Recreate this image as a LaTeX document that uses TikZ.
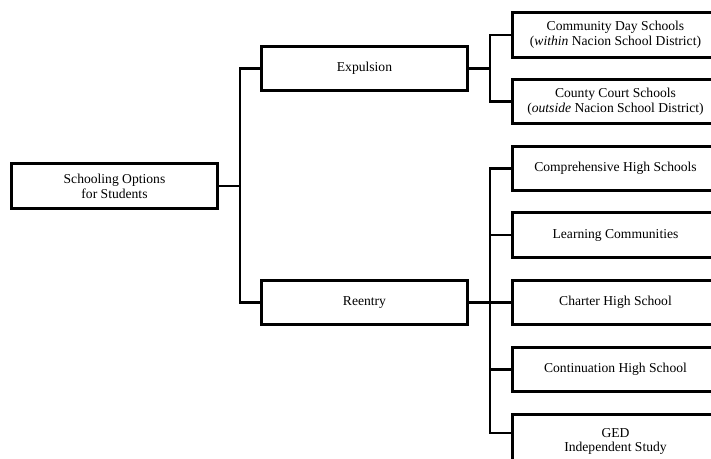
\documentclass[tikz,border=0pt]{standalone}
\usepackage{fontspec}
\setmainfont{Liberation Serif}
\begin{document}
\begin{tikzpicture}[x=0.75pt,y=-0.75pt,
  box/.style={draw, line width=2.2pt, minimum width=154.5pt, minimum height=33.5pt,
    inner sep=0pt, align=center, font=\fontsize{10.2}{11.3}\selectfont},
  conn/.style={line width=2.2pt}]
\useasboundingbox (0,0) rectangle (711,458);
\clip (0,0) rectangle (711,458);
\node[box] (root) at (114.5,186) {Schooling Options\\for Students};
\node[box] (exp) at (364.5,68.5) {Expulsion};
\node[box] (ree) at (364.5,302.5) {Reentry};
\node[box] (cds) at (615.5,35) {Community Day Schools\\(\textit{within} Nacion School District)};
\node[box] (ccs) at (615.5,101.5) {County Court Schools\\(\textit{outside} Nacion School District)};
\node[box] (chs) at (615.5,168.5) {Comprehensive High Schools};
\node[box] (lc) at (615.5,235) {Learning Communities};
\node[box] (chart) at (615.5,302.5) {Charter High School};
\node[box] (cont) at (615.5,369.5) {Continuation High School};
\node[box, minimum height=38pt, text depth=-3pt, font=\fontsize{10.2}{10.4}\selectfont] (ged) at (615.5,440) {GED\\Independent Study};
\coordinate (j1) at (240,186);
\coordinate (j2) at (490,68.5);
\coordinate (j3) at (490,302.5);
\coordinate (gedin) at (511,433);
\draw[conn] (root.east) -- (j1);
\draw[conn] (exp.west) -| (j1);
\draw[conn] (ree.west) -| (j1);
\draw[conn] (exp.east) -- (j2);
\draw[conn] (cds.west) -| (j2);
\draw[conn] (ccs.west) -| (j2);
\draw[conn] (ree.east) -- (j3);
\draw[conn] (chs.west) -| (j3);
\draw[conn] (lc.west) -| (j3);
\draw[conn] (chart.west) -- (j3);
\draw[conn] (cont.west) -| (j3);
\draw[conn] (gedin) -| (j3);
\end{tikzpicture}
\end{document}
